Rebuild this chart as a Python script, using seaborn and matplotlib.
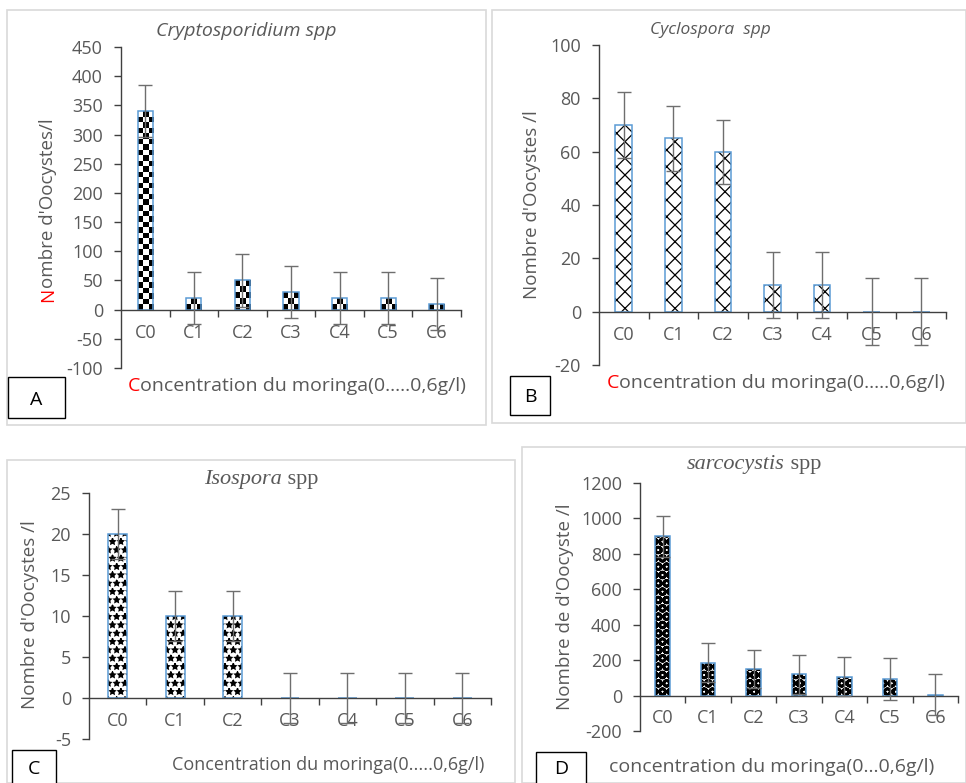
import matplotlib
matplotlib.use("Agg")
import matplotlib.pyplot as plt
import numpy as np
from matplotlib.patches import Rectangle
from matplotlib.ticker import MultipleLocator, FixedLocator
import seaborn as sns

# Data
concentrations = ["C0", "C1", "C2", "C3", "C4", "C5", "C6"]

crypto_mean = [340, 20, 50, 30, 20, 20, 10]
crypto_err = [45, 45, 45, 45, 45, 45, 45]

cyclo_mean = [70, 65, 60, 10, 10, 0, 0]
cyclo_err = [12.3, 12.3, 12.0, 12.3, 12.3, 12.5, 12.5]

isos_mean = [20, 10, 10, 0, 0, 0, 0]
isos_err = [3, 3, 3, 3, 3, 3, 3]

sarco_mean = [900, 185, 150, 120, 105, 95, 5]
sarco_err = [115, 110, 110, 110, 110, 118, 115]

W, H = 966, 783
GRAY = "#595959"
AXIS = "#404040"
BLUE = "#5B9BD5"
SANS = ["Open Sans", "DejaVu Sans"]
SERIF = ["Liberation Serif", "DejaVu Serif"]

sns.set_theme(style="white")
plt.rcParams["font.family"] = SANS
plt.rcParams["axes.unicode_minus"] = False
plt.rcParams["hatch.linewidth"] = 1.0

fig = plt.figure(figsize=(W / 100, H / 100), dpi=100)


def px_box(x0, y0, x1, y1):
    """pixel box (top-left origin) -> figure rect"""
    return [x0 / W, 1 - y1 / H, (x1 - x0) / W, (y1 - y0) / H]


def fx(x):
    return x / W


def fy(y):
    return 1 - y / H


# Panel frames
for x0, y0, x1, y1 in [(7, 10, 486, 425), (492, 10, 966, 423),
                       (7, 460, 515, 783), (522, 447, 966, 783)]:
    fig.patches.append(Rectangle((fx(x0), fy(y1)), (x1 - x0) / W, (y1 - y0) / H,
                                 transform=fig.transFigure, fill=False,
                                 edgecolor="#d9d9d9", linewidth=1.2))


def checker_fill(ax, bars, cell_px=5.5):
    """Checkerboard texture clipped to each bar (Excel 'large checker' fill)."""
    for p in bars:
        x0, y0 = p.get_x(), p.get_y()
        x1, y1 = x0 + p.get_width(), y0 + p.get_height()
        if p.get_height() <= 0:
            continue
        (px0, py0), (px1, py1) = ax.transData.transform([(x0, y0), (x1, y1)])
        nc = max(1, int(round((px1 - px0) / cell_px)))
        nr = max(1, int(round((py1 - py0) / cell_px)))
        board = (np.add.outer(np.arange(nr), np.arange(nc)) % 2).astype(float)
        im = ax.imshow(board, cmap="gray", vmin=0, vmax=1, extent=(x0, x1, y0, y1),
                       origin="lower", interpolation="nearest", aspect="auto",
                       zorder=1.5)
        im.set_clip_path(p)


def draw_panel(rect, means, errs, ylim, step, hatch, hatch_lw, width):
    ax = fig.add_axes(rect)
    sns.barplot(x=concentrations, y=means, color="white", edgecolor="black",
                linewidth=0, width=width, saturation=1, errorbar=None, ax=ax)
    ax.set_xlim(-0.5, 6.5)
    ax.set_ylim(*ylim)
    fill_bars = list(ax.patches)
    if hatch == "checker":
        checker_fill(ax, fill_bars)
    else:
        for p in fill_bars:
            p.set_hatch(hatch)
            if hasattr(p, "set_hatch_linewidth"):
                p.set_hatch_linewidth(hatch_lw)
    sns.barplot(x=concentrations, y=means, color=BLUE, fill=False,
                linewidth=1.1, width=width, saturation=1, errorbar=None, ax=ax)
    for p in ax.patches[len(fill_bars):]:
        p.set_zorder(3)
    ax.errorbar(concentrations, means, yerr=errs, fmt="none", ecolor="#6e6e6e",
                elinewidth=1.0, capsize=5, capthick=1.0, zorder=5)
    ax.set_xlim(-0.5, 6.5)
    ax.set_ylim(*ylim)
    ax.yaxis.set_major_locator(MultipleLocator(step))
    ax.set_xlabel("")
    ax.set_ylabel("")
    for s in ["top", "right"]:
        ax.spines[s].set_visible(False)
    ax.spines["bottom"].set_position(("data", 0))
    ax.spines["left"].set_color(AXIS)
    ax.spines["bottom"].set_color(AXIS)
    ax.spines["left"].set_linewidth(1.0)
    ax.spines["bottom"].set_linewidth(1.0)
    ax.spines["bottom"].set_zorder(4)
    ax.set_facecolor("none")
    ax.tick_params(axis="y", direction="out", length=5, width=1, color=AXIS,
                   labelcolor=GRAY, labelsize=13, pad=8, left=True)
    ax.xaxis.set_minor_locator(FixedLocator([i + 0.5 for i in range(7)]))
    ax.tick_params(axis="x", which="major", length=0, labelcolor=GRAY,
                   labelsize=13, pad=10)
    ax.tick_params(axis="x", which="minor", direction="out", length=5, width=1,
                   color=AXIS, bottom=True)
    return ax


axA = draw_panel(px_box(121, 47, 461, 368), crypto_mean, crypto_err,
                 (-100, 450), 50, "checker", 1.0, 0.31)
axB = draw_panel(px_box(599, 45, 946, 365), cyclo_mean, cyclo_err,
                 (-20, 100), 20, "xx", 0.9, 0.34)
axC = draw_panel(px_box(89, 493, 491, 739), isos_mean, isos_err,
                 (-5, 25), 5, "**", 1.0, 0.33)
axD = draw_panel(px_box(640, 483, 958, 731), sarco_mean, sarco_err,
                 (-200, 1200), 200, "OO", 2.0, 0.32)


def two_part(ax, x, y, first, second, size, family):
    t1 = fig.text(fx(x), fy(y), first, color=GRAY, fontsize=size,
                  family=family, style="italic", ha="left", va="center")
    ax.annotate(second, xy=(1, 0), xycoords=t1, ha="left", va="bottom",
                color=GRAY, fontsize=size, family=family, style="normal",
                annotation_clip=False)


# Titles
fig.text(fx(246), fy(31), "Cryptosporidium spp", color=GRAY, fontsize=14,
         style="italic", ha="center", va="center")
fig.text(fx(710), fy(30), "Cyclospora  spp", color=GRAY, fontsize=12.5,
         style="italic", ha="center", va="center")
two_part(axC, 204, 480, "Isospora", " spp", 16, SERIF)
two_part(axD, 687, 465, "sarcocystis", " spp", 16, SERIF)

# Y labels (panel A has a red initial)
tN = fig.text(fx(48), fy(302), "N", color="red", fontsize=13.5, rotation=90,
              ha="center", va="bottom")
axA.annotate("ombre d'Oocystes/l", xy=(0.5, 1), xycoords=tN, ha="center",
             va="bottom", rotation=90, color=GRAY, fontsize=13.5,
             annotation_clip=False)
fig.text(fx(532), fy(205), "Nombre d'Oocystes /l", color=GRAY, fontsize=13.5,
         rotation=90, ha="center", va="center")
fig.text(fx(30), fy(615), "Nombre d'Oocystes /l", color=GRAY, fontsize=13.5,
         rotation=90, ha="center", va="center")
fig.text(fx(565), fy(607), "Nombre de d'Oocyste /l", color=GRAY, fontsize=13.5,
         rotation=90, ha="center", va="center")

# X labels
for x, y, ax in [(128, 386, axA), (607, 383, axB)]:
    tC = fig.text(fx(x), fy(y), "C", color="red", fontsize=14, ha="left",
                  va="center")
    ax.annotate("oncentration du moringa(0.....0,6g/l)", xy=(1, 0),
                xycoords=tC, ha="left", va="bottom", color=GRAY, fontsize=14,
                annotation_clip=False)
fig.text(fx(172), fy(765), "Concentration du moringa(0.....0,6g/l)", color=GRAY,
         fontsize=13, ha="left", va="center")
fig.text(fx(609), fy(767), "concentration du moringa(0...0,6g/l)", color=GRAY,
         fontsize=14, ha="left", va="center")

# Panel letter boxes
for x0, y0, x1, y1, letter in [(8, 377, 65, 418, "A"), (510, 376, 550, 415, "B"),
                               (12, 750, 56, 790, "C"), (536, 752, 586, 790, "D")]:
    fig.patches.append(Rectangle((fx(x0), fy(y1)), (x1 - x0) / W, (y1 - y0) / H,
                                 transform=fig.transFigure, facecolor="white",
                                 edgecolor="black", linewidth=1.0))
    fig.text(fx((x0 + x1) / 2), fy(min(y1, 783) - (min(y1, 783) - y0) / 2 + 2),
             letter, color="black", fontsize=14, ha="center", va="center")

fig.savefig("out.png", dpi=100, facecolor="white")
